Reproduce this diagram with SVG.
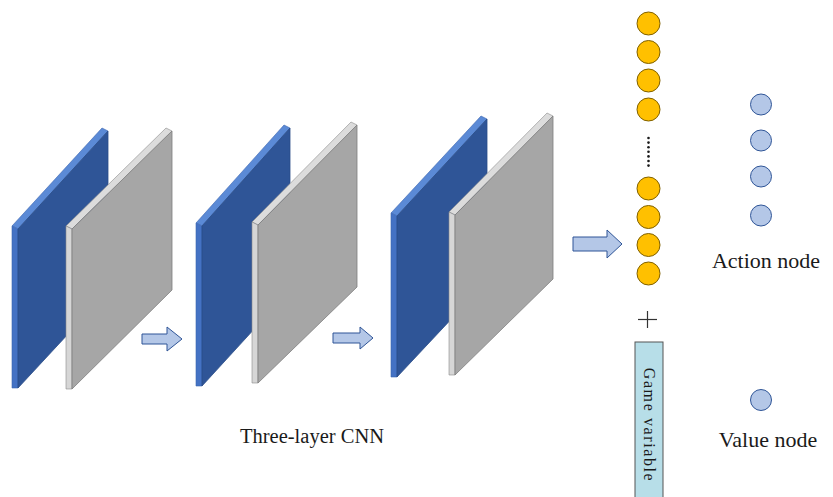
<svg xmlns="http://www.w3.org/2000/svg" width="833" height="497" viewBox="0 0 833 497">
  <style>
    .blue-face { fill: #2F5597; stroke: #2A4D88; stroke-width: 0.8; }
    .blue-side { fill: #4472C4; stroke: #3A64B0; stroke-width: 0.6; }
    .blue-top { fill: #5B8AD6; stroke: #3A64B0; stroke-width: 0.6; }
    .gray-face { fill: #A6A6A6; stroke: #7F7F7F; stroke-width: 0.8; }
    .gray-side { fill: #D6D6D6; stroke: #8C8C8C; stroke-width: 0.6; }
    .gray-top { fill: #DCDCDC; stroke: #8C8C8C; stroke-width: 0.6; }
    .arrow { fill: #B4C7E7; stroke: #2F5597; stroke-width: 1; stroke-linejoin: miter; }
    .feat { fill: #FFC000; stroke: #7F6000; stroke-width: 1; }
    .out { fill: #B4C7E7; stroke: #2F5597; stroke-width: 1; }
    .dot { fill: #1A1A1A; }
    .label { font-family: "Liberation Serif", "Times New Roman", serif; fill: #1A1A1A; }
  </style>
  <rect width="833" height="497" fill="#FFFFFF"/>

  <!-- layer 1 -->
  <g id="layer1">
    <g id="layer1-conv">
      <polygon class="blue-top" points="18,229 108,131 102,128 12,226"/>
      <polygon class="blue-side" points="18,229 18,388 12,388 12,226"/>
      <polygon class="blue-face" points="18,229 108,131 108,291 18,388"/>
    </g>
    <g id="layer1-pool">
      <polygon class="gray-top" points="72,229 172,131 166,128 66,226"/>
      <polygon class="gray-side" points="72,229 72,389 66,389 66,226"/>
      <polygon class="gray-face" points="72,229 172,131 172,290 72,389"/>
    </g>
  </g>

  <!-- layer 2 -->
  <g id="layer2">
    <g id="layer2-conv">
      <polygon class="blue-top" points="202,226 290,128 284,125 196,223"/>
      <polygon class="blue-side" points="202,226 202,386 196,386 196,223"/>
      <polygon class="blue-face" points="202,226 290,128 290,290 202,386"/>
    </g>
    <g id="layer2-pool">
      <polygon class="gray-top" points="258,225 357,125 351,122 252,222"/>
      <polygon class="gray-side" points="258,225 258,383 252,383 252,222"/>
      <polygon class="gray-face" points="258,225 357,125 357,287 258,383"/>
    </g>
  </g>

  <!-- layer 3 -->
  <g id="layer3">
    <g id="layer3-conv">
      <polygon class="blue-top" points="397,216 487,119 481,116 391,213"/>
      <polygon class="blue-side" points="397,216 397,377 391,377 391,213"/>
      <polygon class="blue-face" points="397,216 487,119 487,281 397,377"/>
    </g>
    <g id="layer3-pool">
      <polygon class="gray-top" points="455,215 553,116 547,113 449,212"/>
      <polygon class="gray-side" points="455,215 455,375 449,375 449,212"/>
      <polygon class="gray-face" points="455,215 553,116 553,279 455,375"/>
    </g>
  </g>

  <!-- block arrows between stages -->
  <g id="connectors">
    <polygon class="arrow" points="142,334 167,334 167,327 182,339 167,351 167,344 142,344"/>
    <polygon class="arrow" points="333,333 360,333 360,327 373,338 360,349 360,343 333,343"/>
    <polygon class="arrow" points="573,237 607,237 607,230 622,244 607,258 607,251 573,251"/>
  </g>

  <!-- flattened feature vector -->
  <g id="features">
    <circle class="feat" cx="648.5" cy="23.5" r="11.5"/>
    <circle class="feat" cx="648.5" cy="52" r="11.5"/>
    <circle class="feat" cx="648.5" cy="80.5" r="11.5"/>
    <circle class="feat" cx="648.5" cy="109.5" r="11.5"/>
    <circle class="dot" cx="648.5" cy="138" r="1.3"/>
    <circle class="dot" cx="648.5" cy="142.6" r="1.3"/>
    <circle class="dot" cx="648.5" cy="147.2" r="1.3"/>
    <circle class="dot" cx="648.5" cy="151.8" r="1.3"/>
    <circle class="dot" cx="648.5" cy="156.4" r="1.3"/>
    <circle class="dot" cx="648.5" cy="161" r="1.3"/>
    <circle class="dot" cx="648.5" cy="165.6" r="1.3"/>
    <circle class="feat" cx="648.5" cy="188.5" r="11.5"/>
    <circle class="feat" cx="648.5" cy="217" r="11.5"/>
    <circle class="feat" cx="648.5" cy="245" r="11.5"/>
    <circle class="feat" cx="648.5" cy="273.5" r="11.5"/>
  </g>

  <!-- plus sign -->
  <g id="plus">
    <line x1="638" y1="319.5" x2="657" y2="319.5" stroke="#333333" stroke-width="1.2"/>
    <line x1="647.5" y1="311" x2="647.5" y2="328" stroke="#333333" stroke-width="1.2"/>
  </g>

  <!-- game variable bar -->
  <g id="game-variable">
    <rect x="635" y="342" width="28" height="160" fill="#B7DEE8" stroke="#555555" stroke-width="1"/>
    <text class="label" transform="translate(644 425) rotate(90)" text-anchor="middle" font-size="16" letter-spacing="1.6">Game variable</text>
  </g>

  <!-- policy head -->
  <g id="action-nodes">
    <circle class="out" cx="761" cy="104.5" r="10.5"/>
    <circle class="out" cx="761" cy="140.5" r="10.5"/>
    <circle class="out" cx="761" cy="176.5" r="10.5"/>
    <circle class="out" cx="761" cy="215.5" r="10.5"/>
    <text class="label" x="766" y="268" text-anchor="middle" font-size="22">Action node</text>
  </g>

  <!-- value head -->
  <g id="value-node">
    <circle class="out" cx="761" cy="400" r="10.5"/>
    <text class="label" x="768" y="447" text-anchor="middle" font-size="22">Value node</text>
  </g>

  <g id="cnn-caption">
    <text class="label" x="312" y="443" text-anchor="middle" font-size="20.5">Three-layer CNN</text>
  </g>
</svg>
